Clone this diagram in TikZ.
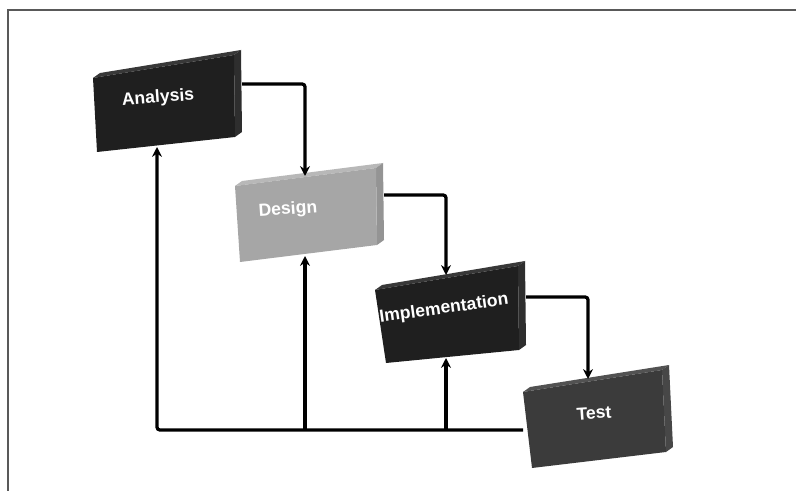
\documentclass[tikz,border=0pt]{standalone}
\usepackage{fontspec}
\setmainfont{Liberation Sans}
\usetikzlibrary{arrows.meta, calc}
\tikzset{
    >={Stealth[length=7pt, width=7pt]}, % small filled heads
    phase/.style={text=white, font=\fontsize{12.5}{14}\selectfont\bfseries, inner sep=0pt},
    flow/.style={->, line width=2.3pt, rounded corners=2pt},
    frame/.style={draw=black!65, line width=1.4pt}
}
% #1 name, #2 front colour, #3 side colour, #4 top colour, #5-#8 front corners (tl, tr, br, bl)
\newcommand{\phasebox}[8]{%
  \coordinate (#1-a) at (#5);
  \coordinate (#1-b) at (#6);
  \coordinate (#1-c) at (#7);
  \coordinate (#1-d) at (#8);
  \fill[#4] (#1-a) -- ($(#1-a)+(7,-5)$) -- ($(#1-b)+(7,-5)$) -- (#1-b) -- cycle;
  \fill[#3] (#1-b) -- ($(#1-b)+(7,-5)$) -- ($(#1-c)+(7,-5)$) -- (#1-c) -- cycle;
  \fill[#2] (#1-a) -- (#1-b) -- (#1-c) -- (#1-d) -- cycle;
}

\begin{document}
\begin{tikzpicture}[x=0.025cm, y=-0.025cm]
    \useasboundingbox (0,0) rectangle (796,491);
    \draw[frame] (8,491) -- (8,10) -- (796,10);

    % the four phases
    \phasebox{ana}{black!88}{black!82}{black!78}{93,78}{234,55}{235,137}{97,152}
    \phasebox{des}{black!35}{black!42}{black!28}{235,186}{376,168}{377,245}{240,262}
    \phasebox{imp}{black!88}{black!82}{black!78}{375,290}{518,266}{519,350}{386,363}
    \phasebox{tst}{black!77}{black!72}{black!68}{523,392}{662,370}{666,452}{532,468}

    \node[phase, rotate=4] (analysis) at (158,98) {Analysis};
    \node[phase, rotate=4] (design) at (288,210) {Design};
    \node[phase, rotate=8] (implementation) at (444,309) {Implementation};
    \node[phase, rotate=4] (test) at (594,413) {Test};

    % connection points
    \coordinate (ana-out) at (242,84);
    \coordinate (des-in) at (305,176);
    \coordinate (des-out) at (384,195);
    \coordinate (imp-in) at (446,275);
    \coordinate (imp-out) at (526,297);
    \coordinate (tst-in) at (588,379);
    \coordinate (tst-back) at (523,430);
    \coordinate (ana-fb) at (157,147);
    \coordinate (des-fb) at (305,256);
    \coordinate (imp-fb) at (446,358);

    \draw[flow] (ana-out) -| (des-in);
    \draw[flow] (des-out) -| (imp-in);
    \draw[flow] (imp-out) -| (tst-in);

    \draw[flow] (tst-back) -| (ana-fb);
    \draw[flow] (des-fb |- tst-back) -- (des-fb);
    \draw[flow] (imp-fb |- tst-back) -- (imp-fb);
\end{tikzpicture}
\end{document}
